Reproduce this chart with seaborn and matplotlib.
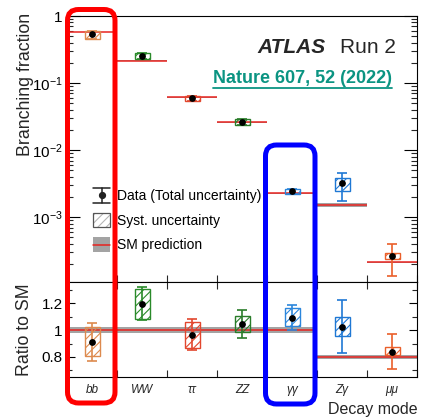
import numpy as np
import pandas as pd
import matplotlib
matplotlib.use("Agg")
import matplotlib.pyplot as plt
import seaborn as sns
from matplotlib.patches import Rectangle, FancyBboxPatch
from matplotlib.lines import Line2D
from matplotlib.transforms import Affine2D
from matplotlib.legend_handler import HandlerBase
from matplotlib.ticker import FixedLocator, NullFormatter, FuncFormatter, LogLocator

# ---------------- data ----------------
decay_modes = ["bb", "WW", "ττ", "ZZ", "γγ", "Zγ", "μμ"]
mode_colors = ["#dd8a4e", "#2a8a2a", "#e2472e", "#2a7d2a", "#2b86dc", "#1f78d4", "#ea5f2a"]

# upper panel: branching fractions
br_value = [0.53, 0.253, 0.059, 0.0265, 0.00244, 0.00318, 0.000262]
br_syst_lo = [0.46, 0.232, 0.054, 0.0240, 0.00224, 0.00247, 0.000236]
br_syst_hi = [0.595, 0.276, 0.065, 0.0293, 0.00264, 0.00386, 0.000288]
br_tot_lo = [0.46, 0.232, 0.054, 0.0240, 0.00224, 0.00173, 0.000131]
br_tot_hi = [0.595, 0.276, 0.065, 0.0293, 0.00264, 0.00458, 0.000392]
sm_br = [0.575, 0.214, 0.061, 0.0262, 0.00226, 0.00152, 0.000213]
sm_br_rel_unc = [0.012, 0.015, 0.016, 0.015, 0.021, 0.07, 0.017]

# lower panel: ratio to SM
ratio_value = [0.912, 1.198, 0.963, 1.044, 1.089, 1.025, 0.84]
ratio_syst_lo = [0.81, 1.087, 0.864, 0.988, 1.028, 0.956, 0.815]
ratio_syst_hi = [1.02, 1.309, 1.062, 1.108, 1.164, 1.099, 0.872]
ratio_tot_lo = [0.772, 1.079, 0.852, 0.944, 1.003, 0.827, 0.711]
ratio_tot_hi = [1.055, 1.32, 1.087, 1.15, 1.188, 1.222, 0.968]
ratio_sm = [1.0, 1.0, 1.0, 1.0, 1.0, 0.8, 0.8]
ratio_sm_unc = [0.02, 0.02, 0.02, 0.02, 0.02, 0.012, 0.012]

top_ticks = [1e-3, 1e-2, 1e-1, 1.0]
top_tick_labels = ["$10^{-3}$", "$10^{-2}$", "$10^{-1}$", "1"]

# ---------------- style ----------------
sns.set_theme(style="ticks")
plt.rcParams["font.family"] = ["Liberation Sans", "DejaVu Sans"]
plt.rcParams["mathtext.fontset"] = "custom"
plt.rcParams["mathtext.rm"] = "Liberation Sans"
plt.rcParams["mathtext.it"] = "Liberation Sans:italic"
plt.rcParams["mathtext.bf"] = "Liberation Sans:bold"
plt.rcParams["hatch.linewidth"] = 0.8
plt.rcParams["axes.linewidth"] = 0.8

W, H = 421, 418
fig = plt.figure(figsize=(W / 100, H / 100), dpi=100)
fig.patch.set_facecolor("white")
pxT = Affine2D().scale(1, -1).translate(0, H).scale(1 / W, 1 / H) + fig.transFigure

L, R = 67, 417
ax1 = fig.add_axes([L / W, 1 - 282 / H, (R - L) / W, (282 - 16) / H])
ax2 = fig.add_axes([L / W, 1 - 377 / H, (R - L) / W, (377 - 282) / H])
for ax in (ax1, ax2):
    ax.set_facecolor("white")
    for s in ax.spines.values():
        s.set_visible(True)
        s.set_color("black")
        s.set_linewidth(0.8)

ax1.set_yscale("log")
xpos = np.arange(len(decay_modes))
edges = np.arange(len(decay_modes) + 1) - 0.5
RED = "#e8231f"
GREY = "#a3a3a3"

# upper panel
for i, c in enumerate(mode_colors):
    sm = sm_br[i]
    u = sm_br_rel_unc[i]
    ax1.fill_between([i - 0.5, i + 0.5], [sm * (1 - u)] * 2, [sm * (1 + u)] * 2,
                     color=GREY, lw=0, zorder=1)
    ax1.hlines(sm, i - 0.5, i + 0.5, color=RED, lw=1.1, zorder=2)
    ax1.add_patch(Rectangle((i - 0.15, br_syst_lo[i]), 0.3, br_syst_hi[i] - br_syst_lo[i],
                            fc="none", ec=c, hatch="////", lw=1.0, zorder=3))
    ax1.errorbar(i, br_value[i], yerr=[[br_value[i] - br_tot_lo[i]], [br_tot_hi[i] - br_value[i]]],
                 fmt="none", ecolor=c, elinewidth=1.2, capsize=3.6, capthick=1.2, zorder=4)

df_top = pd.DataFrame({"pos": xpos, "br": br_value})
sns.scatterplot(data=df_top, x="pos", y="br", color="black", s=24, linewidth=0,
                ax=ax1, zorder=5, legend=False)

# lower panel
for i, c in enumerate(mode_colors):
    r = ratio_sm[i]
    u = ratio_sm_unc[i]
    ax2.fill_between([i - 0.5, i + 0.5], [r - u] * 2, [r + u] * 2, color=GREY, lw=0, zorder=1)
    ax2.hlines(r, i - 0.5, i + 0.5, color=RED, lw=1.1, zorder=2)
    ax2.add_patch(Rectangle((i - 0.15, ratio_syst_lo[i]), 0.3, ratio_syst_hi[i] - ratio_syst_lo[i],
                            fc="none", ec=c, hatch="////", lw=1.0, zorder=3))
    ax2.errorbar(i, ratio_value[i], yerr=[[ratio_value[i] - ratio_tot_lo[i]], [ratio_tot_hi[i] - ratio_value[i]]],
                 fmt="none", ecolor=c, elinewidth=1.2, capsize=3.6, capthick=1.2, zorder=4)

df_bot = pd.DataFrame({"pos": xpos, "ratio": ratio_value})
sns.scatterplot(data=df_bot, x="pos", y="ratio", color="black", s=24, linewidth=0,
                ax=ax2, zorder=5, legend=False)

# axes limits & ticks
ax1.set_xlim(-0.5, len(decay_modes) - 0.5)
ax2.set_xlim(-0.5, len(decay_modes) - 0.5)
ax1.set_ylim(1.08e-4, 1.0)
ax2.set_ylim(0.65, 1.36)
ax1.set_xlabel("")
ax1.set_ylabel("")
ax2.set_xlabel("")
ax2.set_ylabel("")

ax1.set_xticks(edges)
ax1.set_xticklabels([])
ax1.xaxis.set_minor_locator(FixedLocator([]))
ax1.tick_params(axis="x", which="major", direction="in", bottom=True, top=False, length=5, width=0.8)
ax1.yaxis.set_major_locator(FixedLocator(top_ticks))
ax1.set_yticklabels(top_tick_labels)
ax1.yaxis.set_minor_locator(LogLocator(base=10, subs=np.arange(2, 10), numticks=20))
ax1.yaxis.set_minor_formatter(NullFormatter())
ax1.tick_params(axis="y", which="major", direction="in", left=True, right=True, length=9.4, width=0.8,
                labelsize=11, pad=3, colors="black")
ax1.tick_params(axis="y", which="minor", direction="in", left=True, right=True, length=4.5, width=0.8)

ax2.set_xticks(edges)
ax2.set_xticklabels([])
ax2.set_xticks(xpos, minor=True)
ax2.set_xticklabels(decay_modes, minor=True, fontstyle="italic", fontsize=8.5)
ax2.tick_params(axis="x", which="major", direction="in", bottom=True, top=True, length=5, width=0.8)
ax2.tick_params(axis="x", which="minor", length=0, pad=5)
ax2.yaxis.set_major_locator(FixedLocator([0.8, 1.0, 1.2]))
ax2.yaxis.set_major_formatter(FuncFormatter(lambda v, p: f"{v:g}"))
ax2.yaxis.set_minor_locator(FixedLocator([0.7, 0.9, 1.1, 1.3]))
ax2.tick_params(axis="y", which="major", direction="in", left=True, right=True, length=6, width=0.8,
                labelsize=11, pad=3, colors="black")
ax2.tick_params(axis="y", which="minor", direction="in", left=True, right=True, length=3.5, width=0.8)

# axis titles
fig.text(26, 84, "Branching fraction", transform=pxT, rotation=90, ha="center", va="center", fontsize=12.8)
fig.text(25, 329.5, "Ratio to SM", transform=pxT, rotation=90, ha="center", va="center", fontsize=12.8)
fig.text(418, 414, "Decay mode", transform=pxT, ha="right", va="baseline", fontsize=11.5)

# labels
fig.text(257, 53, "ATLAS", transform=pxT, ha="left", va="baseline", fontsize=15,
         fontweight="bold", fontstyle="italic")
fig.text(340, 53, "Run 2", transform=pxT, ha="left", va="baseline", fontsize=15)
TEAL = "#0b9482"
nat = fig.text(213, 83, "Nature 607, 52 (2022)", transform=pxT, ha="left", va="baseline",
               fontsize=13, fontweight="bold", color=TEAL)
fig.canvas.draw()
bb = nat.get_window_extent()
fig.add_artist(Line2D([bb.x0, bb.x1], [H - 87.5, H - 87.5], transform=None, color=TEAL, lw=1.3))


# legend
class DataHandler(HandlerBase):
    def create_artists(self, legend, orig, xd, yd, w, h, fs, trans):
        x0, y0 = -xd, -yd
        cx, cy = x0 + w / 2, y0 + h / 2
        arts = [Line2D([cx, cx], [y0, y0 + h], color="#222222", lw=1.1),
                Line2D([x0, x0 + w], [y0, y0], color="#222222", lw=1.1),
                Line2D([x0, x0 + w], [y0 + h, y0 + h], color="#222222", lw=1.1),
                Line2D([cx], [cy], marker="o", ms=4.2, color="#222222", lw=0)]
        for a in arts:
            a.set_transform(trans)
        return arts


class SystHandler(HandlerBase):
    def create_artists(self, legend, orig, xd, yd, w, h, fs, trans):
        r1 = Rectangle((-xd, -yd), w, h, fc="white", ec="#b5b5b5", hatch="////", lw=0)
        r2 = Rectangle((-xd, -yd), w, h, fc="none", ec="#555555", lw=0.9)
        for a in (r1, r2):
            a.set_transform(trans)
        return [r1, r2]


class SMHandler(HandlerBase):
    def create_artists(self, legend, orig, xd, yd, w, h, fs, trans):
        r = Rectangle((-xd, -yd), w, h, fc=GREY, ec="none")
        ln = Line2D([-xd, -xd + w], [-yd + h / 2] * 2, color=RED, lw=1.1)
        for a in (r, ln):
            a.set_transform(trans)
        return [r, ln]


h_data = Line2D([], [])
h_syst = Rectangle((0, 0), 1, 1)
h_sm = Rectangle((0, 0), 1, 1)
leg = ax1.legend([h_data, h_syst, h_sm],
                 ["Data (Total uncertainty)", "Syst. uncertainty", "SM prediction"],
                 handler_map={h_data: DataHandler(), h_syst: SystHandler(), h_sm: SMHandler()},
                 loc="upper left", bbox_to_anchor=(93, 188), bbox_transform=pxT,
                 frameon=False, fontsize=10, handlelength=1.25, handleheight=1.25,
                 handletextpad=0.5, labelspacing=0.7, borderpad=0, borderaxespad=0)
for t in leg.get_texts():
    t.set_color("black")

# highlight boxes
red_box = FancyBboxPatch((67.5, 9.5), 115 - 67.5, 403 - 9.5,
                         boxstyle="round,pad=0,rounding_size=11", fill=False, ec="#ff0000", lw=3.6,
                         transform=pxT, zorder=20)
blue_box = FancyBboxPatch((265.5, 145), 315 - 265.5, 404 - 145,
                          boxstyle="round,pad=0,rounding_size=11", fill=False, ec="#0000ff", lw=3.6,
                          transform=pxT, zorder=20)
fig.add_artist(red_box)
fig.add_artist(blue_box)

fig.savefig("out.png", dpi=100)
